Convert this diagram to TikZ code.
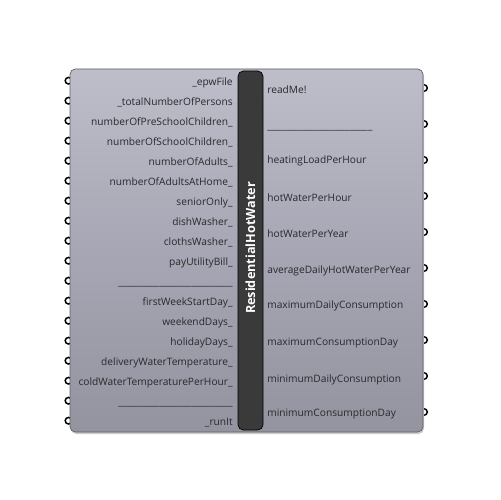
\documentclass[tikz,border=0pt]{standalone}
\usepackage{fontspec}
\setmainfont{Open Sans}
\definecolor{bodytop}{RGB}{190,190,202}
\definecolor{bodygrey}{RGB}{166,166,180}
\definecolor{bodybottom}{RGB}{148,148,160}
\definecolor{edgegrey}{RGB}{96,96,100}
\definecolor{bardark}{RGB}{58,58,58}
\definecolor{labelgrey}{RGB}{40,40,44}
\tikzset{
  lbl/.style={font=\fontsize{5.8}{7}\selectfont, text=labelgrey, inner sep=0pt, text height=1.45ex, text depth=.35ex},
  inlbl/.style={lbl, anchor=east},
  outlbl/.style={lbl, anchor=west},
  grip/.style={fill=white, draw=black, line width=0.85pt}
}
\begin{document}
\begin{tikzpicture}[x=0.02cm, y=-0.02cm]
  \useasboundingbox (0,0) rectangle (500,500);
  % grips
  \filldraw[grip] (68.5,80.7) circle (3.3);
  \filldraw[grip] (68.5,100.7) circle (3.3);
  \filldraw[grip] (68.5,120.7) circle (3.3);
  \filldraw[grip] (68.5,140.7) circle (3.3);
  \filldraw[grip] (68.5,160.7) circle (3.3);
  \filldraw[grip] (68.5,180.7) circle (3.3);
  \filldraw[grip] (68.5,200.7) circle (3.3);
  \filldraw[grip] (68.5,220.7) circle (3.3);
  \filldraw[grip] (68.5,240.7) circle (3.3);
  \filldraw[grip] (68.5,260.7) circle (3.3);
  \filldraw[grip] (68.5,280.7) circle (3.3);
  \filldraw[grip] (68.5,300.7) circle (3.3);
  \filldraw[grip] (68.5,320.7) circle (3.3);
  \filldraw[grip] (68.5,340.7) circle (3.3);
  \filldraw[grip] (68.5,360.7) circle (3.3);
  \filldraw[grip] (68.5,380.7) circle (3.3);
  \filldraw[grip] (68.5,400.7) circle (3.3);
  \filldraw[grip] (68.5,420.7) circle (3.3);
  \filldraw[grip] (424,88) circle (3.3);
  \filldraw[grip] (424,124) circle (3.3);
  \filldraw[grip] (424,160) circle (3.3);
  \filldraw[grip] (424,196) circle (3.3);
  \filldraw[grip] (424,232) circle (3.3);
  \filldraw[grip] (424,268) circle (3.3);
  \filldraw[grip] (424,304) circle (3.3);
  \filldraw[grip] (424,340) circle (3.3);
  \filldraw[grip] (424,376) circle (3.3);
  \filldraw[grip] (424,412) circle (3.3);
  % body
  \fill[black!20, rounded corners=3] (71,71) rectangle (424,434);
  \shade[top color=bodytop, bottom color=bodybottom, middle color=bodygrey, rounded corners=3] (70,69) rectangle (423,432);
  \draw[edgegrey, rounded corners=3] (70,69) rectangle (423,432);
  \filldraw[fill=bardark, draw=black, rounded corners=3] (238,71) rectangle (263,430);
  \node[rotate=90, text=white, inner sep=0pt, font=\fontsize{7.2}{8}\selectfont\bfseries] (title) at (250.5,248) {ResidentialHotWater};
  % inputs
  \node[inlbl] (epwFile) at (233,80.7) {\_epwFile};
  \node[inlbl] (totalPersons) at (233,100.7) {\_totalNumberOfPersons};
  \node[inlbl] (preSchool) at (233,120.7) {numberOfPreSchoolChildren\_};
  \node[inlbl] (school) at (233,140.7) {numberOfSchoolChildren\_};
  \node[inlbl] (adults) at (233,160.7) {numberOfAdults\_};
  \node[inlbl] (adultsHome) at (233,180.7) {numberOfAdultsAtHome\_};
  \node[inlbl] (senior) at (233,200.7) {seniorOnly\_};
  \node[inlbl] (dish) at (233,220.7) {dishWasher\_};
  \node[inlbl] (cloths) at (233,240.7) {clothsWasher\_};
  \node[inlbl] (payBill) at (233,260.7) {payUtilityBill\_};
  \node[inlbl] (sepA) at (233,280.7) {\_\_\_\_\_\_\_\_\_\_\_\_\_\_\_\_\_\_\_\_\_\_\_\_\_};
  \node[inlbl] (weekStart) at (233,300.7) {firstWeekStartDay\_};
  \node[inlbl] (weekend) at (233,320.7) {weekendDays\_};
  \node[inlbl] (holiday) at (233,340.7) {holidayDays\_};
  \node[inlbl] (delivery) at (233,360.7) {deliveryWaterTemperature\_};
  \node[inlbl] (coldWater) at (233,380.7) {coldWaterTemperaturePerHour\_};
  \node[inlbl] (sepB) at (233,400.7) {\_\_\_\_\_\_\_\_\_\_\_\_\_\_\_\_\_\_\_\_\_\_\_\_\_};
  \node[inlbl] (runIt) at (233,420.7) {\_runIt};
  % outputs
  \node[outlbl] (readMe) at (267,88) {readMe!};
  \node[outlbl] (sepC) at (267,124) {\_\_\_\_\_\_\_\_\_\_\_\_\_\_\_\_\_\_\_\_\_\_\_};
  \node[outlbl] (heatLoad) at (267,158) {heatingLoadPerHour};
  \node[outlbl] (hwHour) at (267,196) {hotWaterPerHour};
  \node[outlbl] (hwYear) at (267,232) {hotWaterPerYear};
  \node[outlbl] (avgDaily) at (267,268) {averageDailyHotWaterPerYear};
  \node[outlbl] (maxDaily) at (267,303) {maximumDailyConsumption};
  \node[outlbl] (maxDay) at (267,340) {maximumConsumptionDay};
  \node[outlbl] (minDaily) at (267,377) {minimumDailyConsumption};
  \node[outlbl] (minDay) at (267,411) {minimumConsumptionDay};
\end{tikzpicture}
\end{document}
